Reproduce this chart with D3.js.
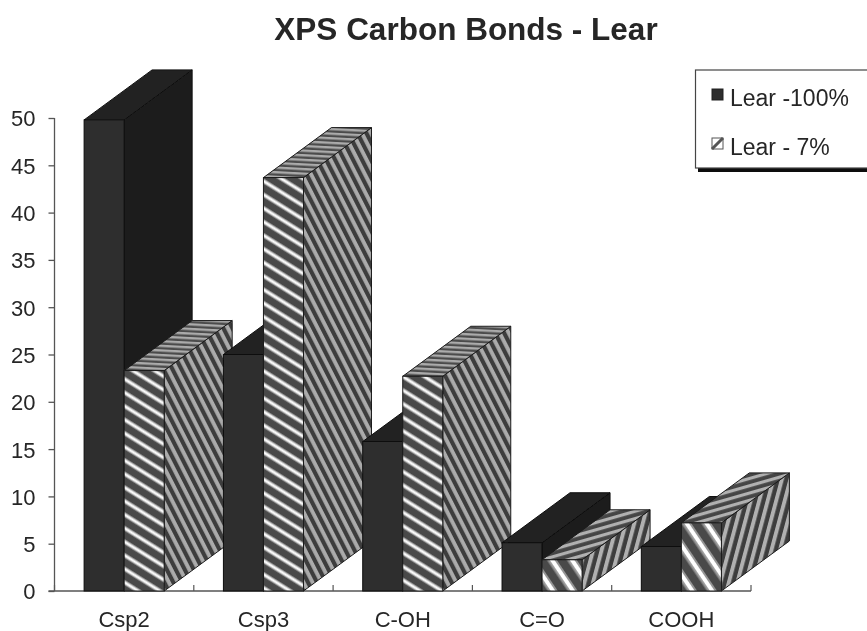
<!DOCTYPE html>
<html>
<head>
<meta charset="utf-8">
<script src="https://cdn.jsdelivr.net/npm/d3@7"></script>
<style>
html,body{margin:0;padding:0;background:#fff;overflow:hidden}
svg{display:block}
text{font-family:"Liberation Sans",Arial,sans-serif;fill:#262626}
</style>
</head>
<body>
<svg id="c" width="867" height="631"></svg>
<script>
const categories = ["Csp2","Csp3","C-OH","C=O","COOH"];
const seriesNames = ["Lear -100%","Lear - 7%"];
const lear100 = [49.8,25,15.8,5.1,4.7];
const lear7 = [23.3,43.7,22.7,3.3,7.2];
const yTicks = [0,5,10,15,20,25,30,35,40,45,50];
const title = "XPS Carbon Bonds - Lear";

const svg = d3.select("#c");
const defs = svg.append("defs");
defs.append("filter").attr("id","soft").attr("x","-2%").attr("y","-2%").attr("width","104%").attr("height","104%")
  .append("feGaussianBlur").attr("stdDeviation",0.55);

function stripes(id, angle, period, stops){
  const p = defs.append("pattern").attr("id",id).attr("patternUnits","userSpaceOnUse")
    .attr("width",period).attr("height",period)
    .attr("patternTransform",`rotate(${angle})`);
  stops.forEach(([from,to,col])=>{
    p.append("rect").attr("x",0).attr("width",period)
      .attr("y",from*period).attr("height",(to-from)*period).attr("fill",col);
  });
}
// the reference's hatch texture is stretched to each face, so tall and short bars differ
stripes("pFrontTall",32,11.5,[[0,1,"#4a4a4a"],[0,.42,"#959595"],[.11,.31,"#ffffff"]]);
stripes("pSideTall",63,8,[[0,1,"#3c3c3c"],[0,.48,"#ababab"]]);
stripes("pTopTall",3,4.6,[[0,1,"#4c4c4c"],[0,.5,"#ababab"]]);
stripes("pFrontShort",56,16.5,[[0,1,"#4a4a4a"],[0,.5,"#959595"],[.12,.36,"#ffffff"]]);
stripes("pSideShort",-75,8.2,[[0,1,"#3c3c3c"],[0,.48,"#b0b0b0"]]);
stripes("pTopShort",-16,7,[[0,1,"#454545"],[0,.45,"#b0b0b0"]]);

const g = svg.append("g").attr("filter","url(#soft)");

const x = d3.scaleBand().domain(categories).range([54.5,751]).padding(0);
const inner = d3.scaleBand().domain(seriesNames).range([0,x.step()]).paddingInner(0).paddingOuter(0.74);
const y = d3.scaleLinear().domain([0,50]).range([591,118]);
const depthX = 68, depthY = -50;

// axes
const yAxis = g.append("g").attr("transform","translate(54.5,0)")
  .call(d3.axisLeft(y).tickValues(yTicks).tickSize(6).tickPadding(13));
const xAxis = g.append("g").attr("transform","translate(0,591)")
  .call(d3.axisBottom(x).tickSize(0).tickPadding(20));
[yAxis,xAxis].forEach(a=>{
  a.selectAll("path,line").attr("stroke","#555").attr("stroke-width",1.3);
  a.selectAll("text").attr("fill","#262626")
   .style("font-family",'"Liberation Sans",Arial,sans-serif');
});
yAxis.selectAll("text").attr("font-size",22).attr("dy","0.36em");
xAxis.selectAll("text").attr("font-size",22);
yAxis.select(".domain").attr("d","M0,118V591");
xAxis.select(".domain").attr("d","M48.5,0H751");
xAxis.selectAll(null).data(d3.range(categories.length+1)).enter().append("line")
  .attr("x1",i=>54.5+i*x.step()).attr("x2",i=>54.5+i*x.step())
  .attr("y1",0).attr("y2",-6).attr("stroke","#555").attr("stroke-width",1.2);

// 3-D bars, drawn back-to-front from left to right
const isShort = d=>d.v<10;
const face = (d,name)=> d.s===seriesNames[0]
  ? {front:"#2f2f2f",side:"#1c1c1c",top:"#242424"}[name]
  : `url(#p${name[0].toUpperCase()+name.slice(1)}${isShort(d)?"Short":"Tall"})`;
const edge = d=> d.s===seriesNames[0] ? "#0f0f0f" : "#1a1a1a";
const rows = categories.flatMap((c,i)=>[
  {c,s:seriesNames[0],v:lear100[i]},
  {c,s:seriesNames[1],v:lear7[i]}
]);
const line = d3.line();
const bars = g.append("g").selectAll("g").data(rows).enter().append("g");
const geom = d=>{
  const x0 = x(d.c)+inner(d.s), x1 = x0+inner.bandwidth(), yt = y(d.v), yb = y(0);
  return {x0,x1,yt,yb};
};
bars.append("path").attr("d",d=>{const {x1,yt,yb}=geom(d);
  return line([[x1,yt],[x1+depthX,yt+depthY],[x1+depthX,yb+depthY],[x1,yb]])+"Z";})
  .attr("fill",d=>face(d,"side")).attr("stroke",edge).attr("stroke-width",1);
bars.append("path").attr("d",d=>{const {x0,x1,yt}=geom(d);
  return line([[x0,yt],[x0+depthX,yt+depthY],[x1+depthX,yt+depthY],[x1,yt]])+"Z";})
  .attr("fill",d=>face(d,"top")).attr("stroke",edge).attr("stroke-width",1);
bars.append("rect")
  .attr("x",d=>geom(d).x0).attr("y",d=>geom(d).yt)
  .attr("width",inner.bandwidth()).attr("height",d=>geom(d).yb-geom(d).yt)
  .attr("fill",d=>face(d,"front")).attr("stroke",edge).attr("stroke-width",1);

// title
g.append("text").attr("x",466).attr("y",40).attr("text-anchor","middle")
  .attr("font-size",31.5).attr("font-weight","bold").attr("fill","#111").text(title);

// legend
const lg = g.append("g");
lg.append("rect").attr("x",698).attr("y",73).attr("width",175).attr("height",99).attr("fill","#111");
lg.append("rect").attr("x",695.5).attr("y",70).attr("width",175).attr("height",98)
  .attr("fill","#fff").attr("stroke","#444").attr("stroke-width",1.2);
const rowsLg = lg.selectAll("g.r").data(seriesNames).enter().append("g").attr("class","r")
  .attr("transform",(d,i)=>`translate(712,${95+i*49})`);
rowsLg.append("rect").attr("x",0).attr("y",-6).attr("width",11).attr("height",11)
  .attr("fill",(d,i)=>i?"#fff":"#2f2f2f").attr("stroke",(d,i)=>i?"#555":"#222").attr("stroke-width",1);
rowsLg.filter((d,i)=>i===1).append("path").attr("d",line([[0,5],[11,-6]]))
  .attr("stroke","#555").attr("stroke-width",3);
rowsLg.append("text").attr("x",18).attr("y",11).attr("font-size",23).attr("fill","#262626").text(d=>d);
</script>
</body>
</html>
